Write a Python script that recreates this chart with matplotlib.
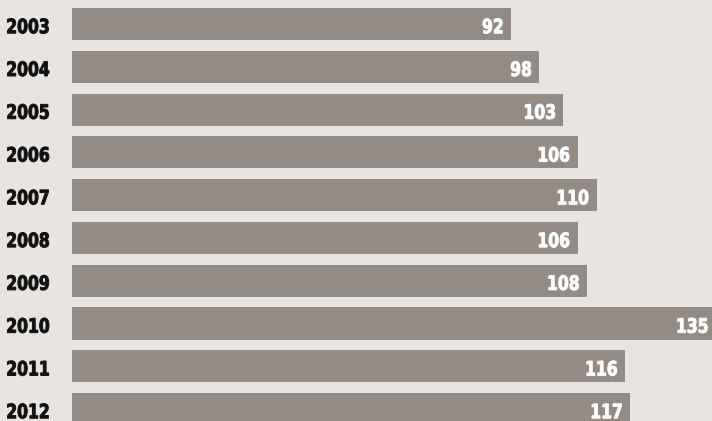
import matplotlib
matplotlib.use("Agg")
import matplotlib.pyplot as plt
from matplotlib import font_manager
from matplotlib.textpath import TextPath
from matplotlib.patches import PathPatch
from matplotlib.transforms import Affine2D

years = ["2003", "2004", "2005", "2006", "2007", "2008", "2009", "2010", "2011", "2012"]
values = [92, 98, 103, 106, 110, 106, 108, 135, 116, 117]

bg = "#e8e4e1"
bar_color = "#948b85"


def pick_font():
    # look for a narrow / condensed bold face, else plain bold
    found = None
    for f in font_manager.fontManager.ttflist:
        name = (f.name + " " + f.fname).lower()
        if ("narrow" in name or "condensed" in name) and f.weight in ("bold", 700):
            if found is None or "liberation" in name:
                found = f.fname
    if found:
        return font_manager.FontProperties(fname=found)
    return font_manager.FontProperties(family="DejaVu Sans", weight="bold")


fp = pick_font()

# digits squeezed to look like the condensed face: "2003" is 41 px wide, 15 px tall
ref = TextPath((0, 0), "2003", size=1, prop=fp).get_extents()
sx = 41 / ref.width
sy = 15 / ref.height


def put(fig, s, x, y, ha, color):
    # x, y in pixels (display coords), y is the vertical centre of the digits
    path = TextPath((0, 0), s, size=1, prop=fp)
    e = path.get_extents()
    x0 = x - e.x1 * sx if ha == "right" else x - e.x0 * sx
    y0 = y - (e.y0 + e.y1) / 2 * sy
    tr = Affine2D().scale(sx, sy).translate(x0, y0)
    # thin outline in the same colour makes the strokes heavier
    patch = PathPatch(path, transform=tr, facecolor=color, edgecolor=color, lw=0.7)
    fig.add_artist(patch)


fig = plt.figure(figsize=(7.12, 4.21), dpi=100, facecolor=bg)
ax = fig.add_axes([72 / 712, 0, 1 - 72 / 712, 1])
ax.set_facecolor(bg)

pos = list(range(len(years)))
ax.barh(pos, values, height=0.75, color=bar_color, edgecolor="none")

# 1 unit = 4.77 px, axis starts at px 72
ax.set_xlim(0, 640 / 4.77)
ax.set_ylim((421 - 24) / 42.78, -24 / 42.78)
ax.axis("off")

for p, v, y in zip(pos, values, years):
    bx, by = ax.transData.transform((v, p))
    put(fig, str(v), bx - 8.5, by - 2, "right", "white")
    put(fig, y, 7.5, by - 2, "left", "#111111")

fig.savefig("out.png", dpi=100, facecolor=bg)
